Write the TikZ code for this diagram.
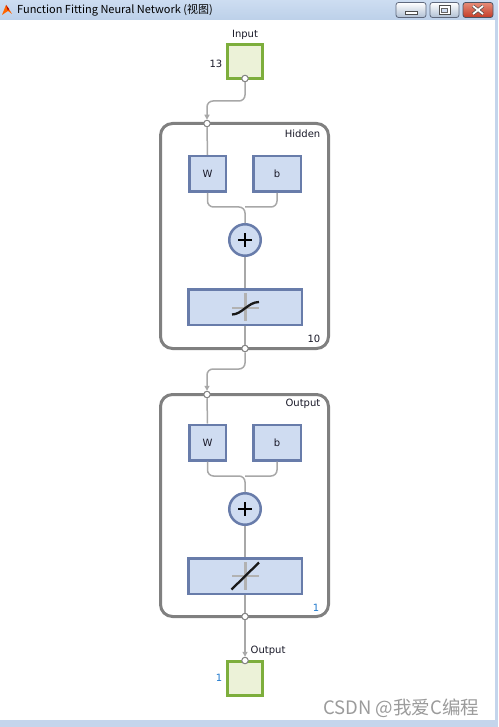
\documentclass[tikz,border=0pt]{standalone}
\usepackage{fontspec}
\setmainfont{DejaVu Sans}
\newfontfamily\cjk{Noto Sans CJK SC}
\usetikzlibrary{arrows.meta,calc}
\definecolor{boxfill}{RGB}{207,220,241}
\definecolor{boxdraw}{RGB}{104,124,170}
\definecolor{iofill}{RGB}{236,242,216}
\definecolor{iodraw}{RGB}{125,174,60}
\definecolor{wirec}{RGB}{168,168,168}
\definecolor{dotc}{RGB}{130,130,130}
\definecolor{framec}{RGB}{128,128,128}
\definecolor{titletop}{RGB}{205,221,241}
\definecolor{titlebot}{RGB}{188,208,233}
\definecolor{winedge}{RGB}{196,213,236}
\definecolor{numblue}{RGB}{30,120,205}
\definecolor{txt}{RGB}{25,25,40}
\definecolor{crossc}{RGB}{178,178,178}
\definecolor{btnedge}{RGB}{95,105,125}
\definecolor{closetop}{RGB}{230,140,120}
\definecolor{closebot}{RGB}{195,60,40}
\definecolor{wmark}{RGB}{155,155,155}
\begin{document}
\begin{tikzpicture}[x=1pt,y=-1pt,
  lbl/.style={font=\fontsize{10}{12}\selectfont,text=txt,inner sep=0pt},
  blue1/.style={font=\fontsize{10}{12}\selectfont,text=numblue,inner sep=0pt},
  blk/.style={draw=boxdraw,fill=boxfill,line width=2.5pt,inner sep=0pt,
    font=\fontsize{10}{12}\selectfont,text=txt},
  plusnode/.style={circle,draw=boxdraw,fill=boxfill,line width=2.5pt,inner sep=0pt,minimum size=31.5pt},
  iobox/.style={draw=iodraw,fill=iofill,line width=3pt,inner sep=0pt,minimum width=35pt,minimum height=34pt},
  layer/.style={draw=framec,line width=3pt,rounded corners=12pt,inner sep=0pt,minimum width=168pt},
  wire/.style={draw=wirec,line width=1.5pt},
  rwire/.style={draw=wirec,line width=1.5pt,rounded corners=6pt},
  arrowwire/.style={draw=wirec,line width=1.5pt,rounded corners=6pt,-{Triangle[length=5pt,width=5pt]}},
  dot/.style={circle,draw=dotc,fill=white,line width=1pt,inner sep=0pt,minimum size=6.5pt},
  crossline/.style={draw=crossc,line width=2.5pt},
  fnline/.style={draw=black!90,line width=2.3pt},
  btn/.style={draw=btnedge,line width=0.8pt,rounded corners=2.5pt,top color=white,bottom color=titlebot!80!gray}
]
\useasboundingbox (0,0) rectangle (498,727);
% window
\fill[winedge] (0,0) rectangle (498,727);
\shade[top color=titletop,bottom color=titlebot] (0,0) rectangle (498,20);
\fill[white] (0,20) rectangle (495,720);
% icon
\fill[orange!80!red] (2,15) -- (6,5) -- (9,9) -- (12,14) -- (8,11) -- cycle;
\fill[red!70!black] (6,5) -- (9,9) -- (8,11) -- cycle;
\node[anchor=west,inner sep=0pt,font=\cjk\fontsize{11}{13}\selectfont,text=black] (title) at (17,10.5) {Function Fitting Neural Network (视图)};
% buttons
\path[btn] (396,2.5) rectangle (426,17.5);
\path[btn] (430,2.5) rectangle (459,17.5);
\path[draw=btnedge!80!black,line width=0.8pt,rounded corners=2.5pt,top color=closetop,bottom color=closebot] (463,2.5) rectangle (493,17.5);
\draw[fill=white,draw=black!70,line width=0.6pt] (405,11) rectangle (417,14);
\draw[fill=white,draw=black!70,line width=0.6pt] (439,5.5) rectangle (450,14);
\draw[fill=boxfill,draw=black!60,line width=0.5pt] (441.5,8.5) rectangle (447.5,12);
\draw[black!70,line width=3.2pt] (473,6) -- (483,14) (483,6) -- (473,14);
\draw[white,line width=1.8pt] (473,6) -- (483,14) (483,6) -- (473,14);

% ---------- input ----------
\node[iobox] (inp) at (245,61.5) {};
\node[lbl] (inplbl) at (245,35) {Input};
\node[lbl,anchor=east] (inpn) at (222.5,64) {13};
\node[dot] (inpo) at (245,78.5) {};

% ---------- hidden layer ----------
\node[layer,minimum height=225pt] (hid) at (244.5,236) {};
\node[lbl,anchor=east] (hidlbl) at (320.5,134) {Hidden};
\node[lbl,anchor=east] (hidn) at (320.5,339) {10};
\node[dot] (hin) at (207,123.5) {};
\node[blk,minimum width=36.5pt,minimum height=35.5pt] (hW) at (207.5,174) {W};
\node[blk,minimum width=47.5pt,minimum height=35.5pt] (hb) at (277,174) {b};
\node[plusnode] (hP) at (245,240) {};
\node[blk,minimum width=113.5pt,minimum height=35.5pt] (hT) at (245,307) {};
\node[dot] (hout) at (245,348.5) {};
\draw[line width=2pt] ($(hP)+(-7,0)$) -- ($(hP)+(7,0)$) ($(hP)+(0,-7)$) -- ($(hP)+(0,7)$);
\draw[crossline] (232,308) -- (259,308) (245.5,293) -- (245.5,321);
\draw[fnline] (232,314.5) .. controls (242,314.5) and (248,302) .. (259,302);

% ---------- output layer ----------
\node[layer,minimum height=222pt] (outl) at (244.5,505.5) {};
\node[lbl,anchor=east] (outlbl) at (320.5,403.5) {Output};
\node[blue1,anchor=east] (outn) at (319.5,608) {1};
\node[dot] (oin) at (207,394.5) {};
\node[blk,minimum width=36.5pt,minimum height=35.5pt] (oW) at (207.5,442.5) {W};
\node[blk,minimum width=47.5pt,minimum height=35.5pt] (ob) at (277,442.5) {b};
\node[plusnode] (oP) at (245,509) {};
\node[blk,minimum width=113.5pt,minimum height=35.5pt] (oT) at (245,576) {};
\node[dot] (oout) at (245,616.5) {};
\draw[line width=2pt] ($(oP)+(-7,0)$) -- ($(oP)+(7,0)$) ($(oP)+(0,-7)$) -- ($(oP)+(0,7)$);
\draw[crossline] (232,576) -- (259,576) (245.5,562) -- (245.5,590);
\draw[fnline] (231.5,589.5) -- (259,562.5);

% ---------- final output ----------
\node[iobox] (fout) at (245,678.5) {};
\node[dot] (fin) at (245,660.5) {};
\node[lbl,anchor=west] (foutlbl) at (250.5,651) {Output};
\node[blue1,anchor=east] (foutn) at (222.5,677.5) {1};

% ---------- wires ----------
\coordinate (k1) at (207,101);
\path[arrowwire] (inpo.south) |- (k1) -- (hin.north);
\path[wire] (hin.south) -- (hW.north);
\path[rwire] (hW.south) |- ($(hP.north)+(0,-16)$) -- (hP.north);
\path[rwire] (hb.south) |- ($(hP.north)+(0,-16)$);
\path[wire] (hP.south) -- (hT.north);
\path[wire] (hT.south) -- (hout.north);
\coordinate (k2) at (207,369);
\path[arrowwire] (hout.south) |- (k2) -- (oin.north);
\path[wire] (oin.south) -- (oW.north);
\path[rwire] (oW.south) |- ($(oP.north)+(0,-16)$) -- (oP.north);
\path[rwire] (ob.south) |- ($(oP.north)+(0,-16)$);
\path[wire] (oP.south) -- (oT.north);
\path[wire] (oT.south) -- (oout.north);
\path[arrowwire] (oout.south) -- (fin.north);

% watermark
\node[anchor=west,inner sep=0pt,font=\cjk\fontsize{18.5}{20}\selectfont,text=wmark] (wm) at (323,708) {CSDN @我爱C编程};
\end{tikzpicture}
\end{document}
